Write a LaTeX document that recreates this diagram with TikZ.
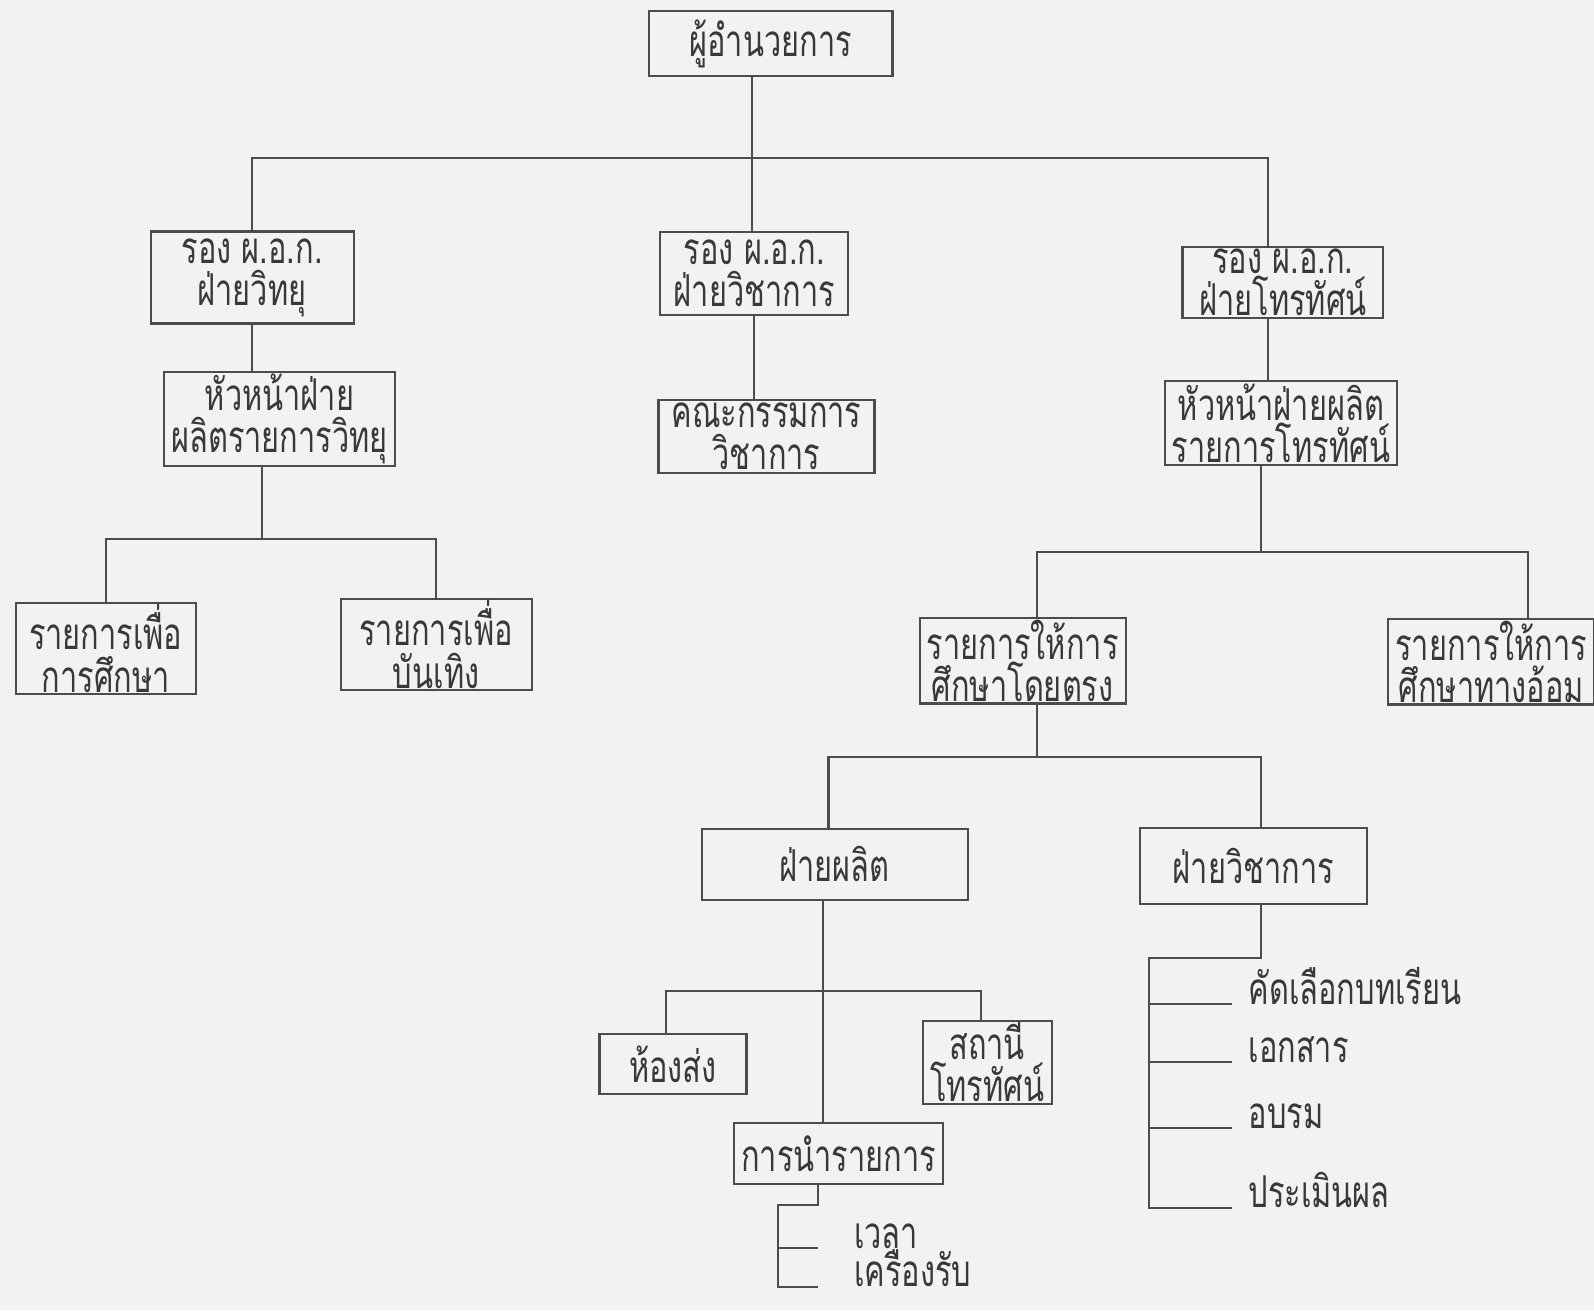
\documentclass[tikz,border=0pt]{standalone}
\usepackage{fontspec}
\newfontfamily\thaifont[Script=Thai,FakeStretch=0.7]{Loma}
\begin{document}
\begin{tikzpicture}[x=0.1017mm,y=-0.1017mm,
    box/.style={draw=black!70,line width=0.6pt,align=center,text=black!78,
      font=\thaifont\fontsize{12.5}{12}\selectfont,inner xsep=2pt,inner ysep=0.5pt},
    leaf/.style={anchor=base west,text=black!78,inner xsep=4.5pt,inner ysep=0pt,
      text height=9pt,text depth=2pt,font=\thaifont\fontsize{12.5}{12}\selectfont},
    line/.style={draw=black!70,line width=0.6pt}]
      \fill[black!5] (0,0) rectangle (1568,1289);
      \useasboundingbox (0,0) rectangle (1568,1289);
      \node[box,minimum width=24.4mm,minimum height=6.5mm] (dir) at (758,43) {ผู้อำนวยการ};
      \node[box,minimum width=20.3mm,minimum height=9.2mm] (radio) at (248,273) {รอง ผ.อ.ก.\\ฝ่ายวิทยุ};
      \node[box,minimum width=18.8mm,minimum height=8.3mm] (acad) at (742,269) {รอง ผ.อ.ก.\\ฝ่ายวิชาการ};
      \node[box,minimum width=20.1mm,minimum height=7.1mm] (tv) at (1262,278) {รอง ผ.อ.ก.\\ฝ่ายโทรทัศน์};
      \node[box,minimum width=19.8mm,minimum height=8.1mm] (radiohead) at (275,412) {หัวหน้าฝ่าย\\ผลิตรายการวิทยุ};
      \node[box,minimum width=21.6mm,minimum height=7.3mm] (board) at (754,429) {คณะกรรมการ\\วิชาการ};
      \node[box,minimum width=21.4mm,minimum height=8.4mm] (tvhead) at (1260,416) {หัวหน้าฝ่ายผลิต\\รายการโทรทัศน์};
      \node[box,minimum width=18mm,minimum height=8.3mm] (edu) at (104,638) {รายการเพื่อ\\การศึกษา};
      \node[box,minimum width=19.1mm,minimum height=7.3mm] (ent) at (429,634) {รายการเพื่อ\\บันเทิง};
      \node[box,minimum width=19.1mm,minimum height=7.1mm] (direct) at (1006,650) {รายการให้การ\\ศึกษาโดยตรง};
      \node[box,minimum width=19.8mm,minimum height=7.9mm] (indirect) at (1467,651) {รายการให้การ\\ศึกษาทางอ้อม};
      \node[box,minimum width=26.6mm,minimum height=7.1mm] (prod) at (821,850) {ฝ่ายผลิต};
      \node[box,minimum width=22.7mm,minimum height=7.6mm] (acaddiv) at (1233,852) {ฝ่ายวิชาการ};
      \node[box,minimum width=14.7mm,minimum height=6mm] (studio) at (662,1047) {ห้องส่ง};
      \node[box,minimum width=12.9mm,minimum height=5.5mm] (station) at (971,1045) {สถานี\\โทรทัศน์};
      \node[box,minimum width=18.3mm,minimum height=6.1mm] (present) at (825,1135) {การนำรายการ};
      \node[leaf] (select) at (1212,988) {คัดเลือกบทเรียน};
      \node[leaf] (docs) at (1212,1045) {เอกสาร};
      \node[leaf] (train) at (1212,1110) {อบรม};
      \node[leaf] (eval) at (1212,1188) {ประเมินผล};
      \node[leaf,inner xsep=10pt] (time) at (805,1228) {เวลา};
      \node[leaf,inner xsep=10pt] (recv) at (805,1266) {เครื่องรับ};
      \coordinate (b1) at (740,155);
      \coordinate (b2) at (1247,155);
      \coordinate (b3) at (258,530);
      \coordinate (b4) at (1240,543);
      \coordinate (b5) at (1020,745);
      \coordinate (b6) at (810,975);
      \coordinate (b7) at (1130,942);
      \coordinate (b8) at (765,1185);
      \coordinate (b9) at (805,1185);
      \draw[line] (dir.south -| b1) -- (b1) -- (b1 |- acad.north);
      \draw[line] (radio.north) |- (b2) -- (b2 |- tv.north);
      \draw[line] (radio.south) -- (radio.south |- radiohead.north);
      \draw[line] (acad.south) -- (acad.south |- board.north);
      \draw[line] (b2 |- tv.south) -- (b2 |- tvhead.north);
      \draw[line] (b3 |- radiohead.south) -- (b3);
      \draw[line] (edu.north) |- (b3) -| (ent.north);
      \draw[line] (b4 |- tvhead.south) -- (b4);
      \draw[line] (direct.north -| b5) |- (b4) -| (indirect.north -| 1503,0);
      \draw[line] (b5 |- direct.south) -- (b5);
      \draw[line] (prod.north -| 815,0) |- (b5) -| (b4 |- acaddiv.north);
      \draw[line] (b6 |- prod.south) -- (b6 |- present.north);
      \draw[line] (studio.north -| 655,0) |- (b6) -| (station.north -| 965,0);
      \draw[line] (b4 |- acaddiv.south) |- (b7) |- (eval.base west);
      \draw[line] (b7 |- select.base) -- (select.base west);
      \draw[line] (b7 |- docs.base) -- (docs.base west);
      \draw[line] (b7 |- train.base) -- (train.base west);
      \draw[line] (b9 |- present.south) -- (b9) -- (b8) |- (recv.base west);
      \draw[line] (b8 |- time.base) -- (time.base west);
    \end{tikzpicture}
\end{document}
